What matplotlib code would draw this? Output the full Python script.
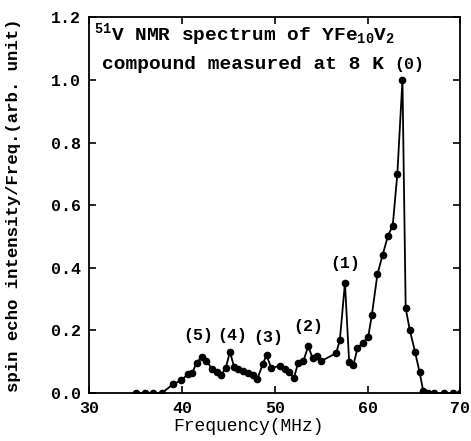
import numpy as np
import matplotlib
matplotlib.use("Agg")
import matplotlib.pyplot as plt

# V-51 NMR spectrum of YFe10V2 at 8 K
freq = [35.0, 36.0, 36.9, 37.8, 39.0, 39.9, 40.6, 41.1, 41.55, 42.1,
        42.6, 43.2, 43.7, 44.2, 44.7, 45.15, 45.6, 46.05, 46.6, 47.1,
        47.6, 48.1, 48.7, 49.1, 49.6, 50.5, 51.1, 51.55, 52.05, 52.5,
        53.05, 53.6, 54.05, 54.5, 55.0, 56.6, 57.0, 57.55, 58.0, 58.45,
        58.9, 59.45, 60.05, 60.45, 61.05, 61.6, 62.2, 62.7, 63.2, 63.75,
        64.1, 64.55, 65.1, 65.6, 66.0, 66.5, 67.1, 68.2, 69.2, 70.0]
intensity = [0.0, 0.0, 0.0, 0.0, 0.027, 0.041, 0.059, 0.065, 0.097, 0.114,
             0.103, 0.077, 0.066, 0.057, 0.080, 0.132, 0.082, 0.077, 0.071, 0.065,
             0.058, 0.044, 0.094, 0.120, 0.080, 0.086, 0.075, 0.066, 0.048, 0.096,
             0.101, 0.150, 0.111, 0.118, 0.102, 0.127, 0.169, 0.352, 0.100, 0.088,
             0.143, 0.160, 0.178, 0.249, 0.379, 0.440, 0.503, 0.534, 0.700, 1.0,
             0.270, 0.200, 0.132, 0.066, 0.005, 0.0, 0.0, 0.0, 0.0, 0.0]

peak_labels = ["(0)", "(1)", "(2)", "(3)", "(4)", "(5)"]
peak_x = [64.5, 57.6, 53.6, 49.3, 45.4, 41.7]
peak_y = [1.05, 0.415, 0.212, 0.178, 0.182, 0.182]

xticks = [30, 40, 50, 60, 70]
yticks = [0.0, 0.2, 0.4, 0.6, 0.8, 1.0, 1.2]

plt.rcParams['font.family'] = ['Liberation Mono', 'DejaVu Sans Mono']
plt.rcParams['font.weight'] = 'bold'
plt.rcParams['mathtext.fontset'] = 'custom'
plt.rcParams['mathtext.rm'] = 'Liberation Mono:bold'
plt.rcParams['mathtext.it'] = 'Liberation Mono:bold'

fig = plt.figure(figsize=(4.71, 4.41), dpi=100)
ax = fig.add_axes([0.190, 0.109, 0.7875, 0.8515])

ax.plot(freq, intensity, color='black', lw=1.3, marker='o', ms=4.5,
        mfc='black', mec='black')

for lab, px, py in zip(peak_labels, peak_x, peak_y):
    ax.text(px, py, lab, ha='center', va='center', fontsize=12, fontweight='bold')

ax.text(0.012, 0.955, r"$^{51}$V NMR spectrum of YFe$_{10}$V$_{2}$",
        transform=ax.transAxes, ha='left', va='center', fontsize=14, fontweight='bold')
ax.text(0.035, 0.875, "compound measured at 8 K",
        transform=ax.transAxes, ha='left', va='center', fontsize=14, fontweight='bold')

ax.set_xlim(30, 70)
ax.set_ylim(0, 1.2)
ax.set_xticks(xticks)
ax.set_yticks(yticks)
ax.set_yticklabels(["%.1f" % v for v in yticks])
ax.tick_params(direction='in', top=True, right=True, length=5, width=1.2,
               labelsize=12, pad=6)
for lbl in ax.get_xticklabels() + ax.get_yticklabels():
    lbl.set_fontweight('bold')
for sp in ax.spines.values():
    sp.set_linewidth(1.3)

ax.set_xlabel("Frequency(MHz)", fontsize=13, fontweight='normal')
ax.xaxis.set_label_coords(0.43, -0.068)
ax.set_ylabel("spin echo intensity/Freq.(arb. unit)", fontsize=12.5,
              fontweight='bold')
ax.yaxis.set_label_coords(-0.185, 0.5)

fig.savefig('out.png', dpi=100)
